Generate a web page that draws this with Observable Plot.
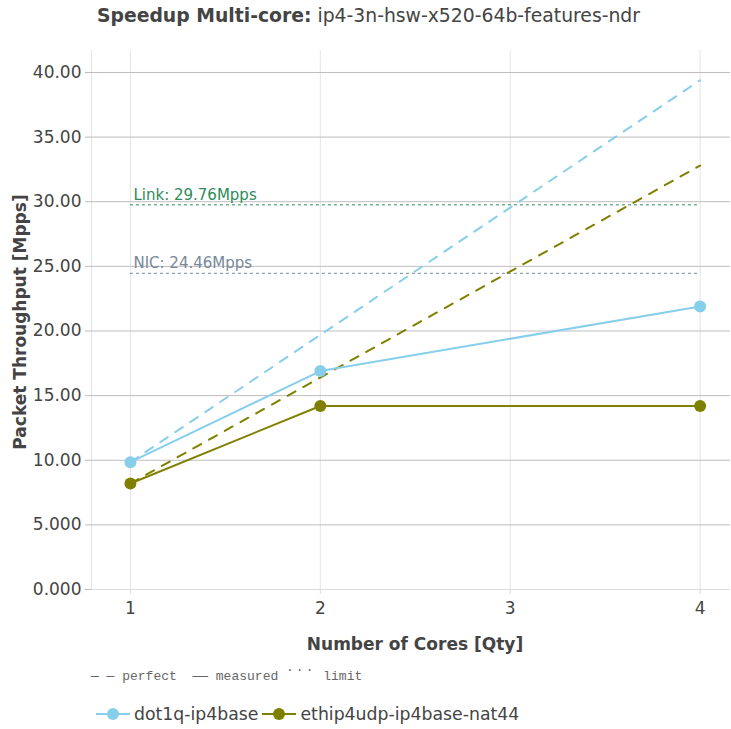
<!DOCTYPE html>
<html>
<head>
<meta charset="utf-8">
<script src="https://cdn.jsdelivr.net/npm/d3@7"></script>
<script src="https://cdn.jsdelivr.net/npm/@observablehq/plot@0.6"></script>
<style>
  html, body { margin: 0; padding: 0; background: #fff; }
  #wrap { position: relative; width: 731px; height: 729px; font-family: "DejaVu Sans", sans-serif; color: #444; overflow: hidden; }
  #wrap > svg { position: absolute; left: 0; top: 0; }
  .abs { position: absolute; white-space: nowrap; }
  #title { left: 3px; width: 731px; top: 5px; text-align: center; font-size: 18.8px; }
  #xtitle { left: 95px; width: 640px; top: 634px; text-align: center; font-size: 17px; font-weight: bold; }
  #ytitle { left: 20px; top: 322px; font-size: 17px; font-weight: bold; transform: translate(-50%, -50%) rotate(-90deg); }
  #leg1 { left: 91px; top: 669px; font-family: "Liberation Mono", "DejaVu Sans Mono", monospace; font-size: 13px; color: #666; }
  #leg2 { left: 95px; top: 704px; font-size: 17.3px; display: flex; align-items: center; }
  .item { display: flex; align-items: center; margin-right: 3px; }
  .item svg { margin-right: 3px; }
</style>
</head>
<body>
<div id="wrap"></div>
<script>
// ---- data ----
const cores = [1, 2, 4];
const seriesNames = ["dot1q-ip4base", "ethip4udp-ip4base-nat44"];
const seriesColors = ["#87ceeb", "#808000"];
const dot1qMeasured = [9.85, 16.9, 21.9];
const natMeasured = [8.2, 14.2, 14.2];
const dot1qPerfect = [9.85, 19.7, 39.4];
const natPerfect = [8.2, 16.4, 32.8];
const limitNames = ["Link", "NIC"];
const limitValues = [29.76, 24.46];
const limitColors = ["#2e8b57", "#778899"];
const xTicks = [1, 2, 3, 4];
const yTicks = [0, 5, 10, 15, 20, 25, 30, 35, 40];
const xDomain = [0.795, 4.16];
const yDomain = [0, 41.7];

// ---- tables ----
const measured = [];
const perfect = [];
cores.forEach((c, i) => {
  measured.push({cores: c, value: dot1qMeasured[i], series: seriesNames[0]});
  perfect.push({cores: c, value: dot1qPerfect[i], series: seriesNames[0]});
});
cores.forEach((c, i) => {
  measured.push({cores: c, value: natMeasured[i], series: seriesNames[1]});
  perfect.push({cores: c, value: natPerfect[i], series: seriesNames[1]});
});
const limits = limitNames.map((n, i) => ({
  name: n, value: limitValues[i], color: limitColors[i],
  start: xTicks[0], end: xTicks[xTicks.length - 1]
}));

const fmt = d => d >= 10 ? d.toFixed(2) : d.toFixed(3);

const chart = Plot.plot({
  width: 731,
  height: 729,
  marginTop: 50,
  marginBottom: 140,
  marginLeft: 91,
  marginRight: 1,
  style: {fontFamily: "DejaVu Sans, sans-serif", fontSize: "17px", color: "#444", background: "transparent"},
  x: {domain: xDomain},
  y: {domain: yDomain},
  color: {domain: seriesNames, range: seriesColors},
  marks: [
    Plot.ruleX(xTicks, {stroke: "#e4e4e4", strokeWidth: 1}),
    Plot.ruleX([xDomain[0]], {stroke: "#e4e4e4", strokeWidth: 1}),
    Plot.ruleY(yTicks.filter(d => d > 0), {stroke: "#bdbdbd", strokeWidth: 1}),
    Plot.ruleY([0], {stroke: "#dcdcdc", strokeWidth: 1}),
    Plot.axisY({ticks: yTicks, tickFormat: fmt, tickSize: 6, tickPadding: 4, stroke: "#bdbdbd", label: null}),
    Plot.axisX({ticks: xTicks, tickFormat: d => String(d), tickSize: 5, tickPadding: 7, stroke: "#dcdcdc", label: null}),
    Plot.ruleY(limits, {y: "value", x1: "start", x2: "end", stroke: "color", strokeWidth: 1, strokeDasharray: "3,3"}),
    Plot.text(limits, {x: "start", y: "value", text: d => `${d.name}: ${d.value}Mpps`, fill: "color", textAnchor: "start", dx: 3, dy: -10, fontSize: 15}),
    Plot.line(perfect, {x: "cores", y: "value", z: "series", stroke: "series", strokeWidth: 2, strokeDasharray: "9,9"}),
    Plot.line(measured, {x: "cores", y: "value", z: "series", stroke: "series", strokeWidth: 2}),
    Plot.dot(measured, {x: "cores", y: "value", fill: "series", r: 6})
  ]
});

const wrap = document.getElementById("wrap");
wrap.appendChild(chart);

function addDiv(id, html) {
  const d = document.createElement("div");
  d.id = id; d.className = "abs"; d.innerHTML = html;
  wrap.appendChild(d);
}
addDiv("title", '<b>Speedup Multi-core:</b> ip4-3n-hsw-x520-64b-features-ndr');
addDiv("xtitle", "Number of Cores [Qty]");
addDiv("ytitle", "Packet Throughput [Mpps]");
addDiv("leg1", '— — perfect &nbsp;—— measured <span style="position:relative;top:-6px;letter-spacing:2px">···</span> limit');
addDiv("leg2", seriesNames.map((n, i) =>
  `<span class="item"><svg width="36" height="14"><line x1="1" y1="7" x2="35" y2="7" stroke="${seriesColors[i]}" stroke-width="2"/><circle cx="18" cy="7" r="6" fill="${seriesColors[i]}"/></svg>${n}</span>`
).join(""));
</script>
</body>
</html>
